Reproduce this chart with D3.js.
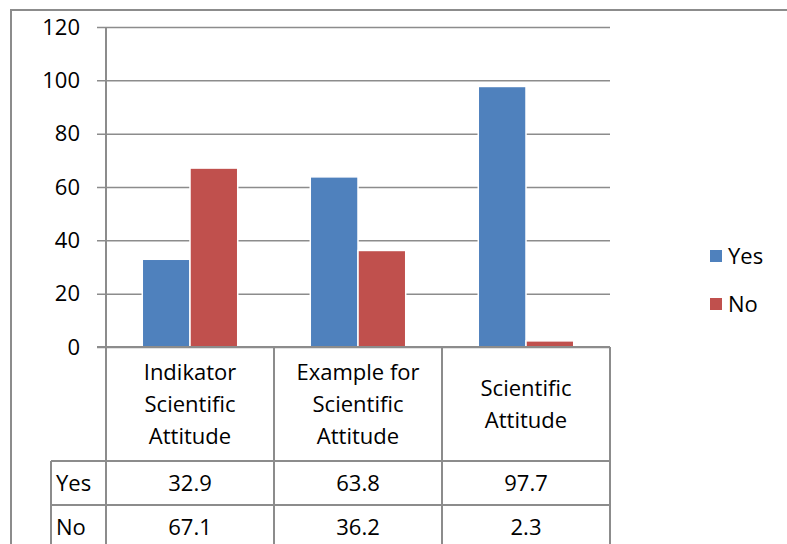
<!DOCTYPE html>
<html>
<head>
<meta charset="utf-8">
<script src="https://cdn.jsdelivr.net/npm/d3@7"></script>
<style>
  body { margin: 0; background: #fff; }
  text { font-family: "Open Sans", "Noto Sans", sans-serif; fill: #000; }
</style>
</head>
<body>
<div class="chart"></div>
<script>
let categories = [
    ["Indikator", "Scientific", "Attitude"],
    ["Example for", "Scientific", "Attitude"],
    ["Scientific", "Attitude"]
]
let seriesNames = ["Yes", "No"]
let yesValues = [32.9, 63.8, 97.7]
let noValues = [67.1, 36.2, 2.3]
let yTicks = [0, 20, 40, 60, 80, 100, 120]

let colors = {Yes: "#4F81BD", No: "#C0504D"}
let gridColor = "#8c8c8c"
let fontSize = 22

let outerWidth = 787
let outerHeight = 544
let plot = {left: 106, right: 610, top: 27, bottom: 347}
let headerBottom = 461
let rowHeight = 44
let labelColLeft = 51

let svg = d3.select(".chart")
    .append("svg")
    .attr("width", outerWidth)
    .attr("height", outerHeight)

// outer chart border
svg.append("path")
    .attr("d", `M11,${outerHeight} V10 H${outerWidth}`)
    .attr("fill", "none")
    .attr("stroke", gridColor)
    .attr("stroke-width", 2)

let catIdx = d3.range(categories.length)

let xScale = d3.scaleBand()
    .domain(catIdx)
    .range([plot.left, plot.right])

let xInner = d3.scaleBand()
    .domain(seriesNames)
    .range([0, xScale.bandwidth()])
    .paddingOuter(0.76)

let yScale = d3.scaleLinear()
    .domain([0, 120])
    .range([plot.bottom, plot.top])

// gridlines with tick marks to the left
let yAxis = d3.axisLeft(yScale)
    .tickValues(yTicks)
    .tickSize(-(plot.right - plot.left))

let yg = svg.append("g")
    .attr("class", "axis y-axis")
    .attr("transform", `translate(${plot.left}, 0)`)
    .call(yAxis)
yg.select(".domain").remove()
yg.selectAll(".tick line")
    .attr("x1", -9)
    .attr("stroke", gridColor)
    .attr("stroke-width", 1.5)
yg.selectAll(".tick text")
    .attr("font-size", fontSize)
    .attr("font-family", "Open Sans, sans-serif")
    .attr("x", -26)

// bars
let data = []
catIdx.forEach(i => {
    data.push({cat: i, series: "Yes", value: yesValues[i]})
    data.push({cat: i, series: "No", value: noValues[i]})
})

svg.append("g")
    .selectAll("rect")
    .data(data)
    .enter()
    .append("rect")
    .attr("x", d => xScale(d.cat) + xInner(d.series))
    .attr("y", d => yScale(d.value))
    .attr("width", xInner.bandwidth())
    .attr("height", d => yScale(0) - yScale(d.value))
    .attr("fill", d => colors[d.series])
    .attr("stroke", "#fff")
    .attr("stroke-width", 1.5)

// table lines
let tableBottom = headerBottom + rowHeight * seriesNames.length + 2
let lines = svg.append("g")
    .attr("stroke", gridColor)
    .attr("stroke-width", 2)
    .attr("fill", "none")

// value axis line and category separators
lines.append("line")
    .attr("x1", plot.left).attr("x2", plot.left)
    .attr("y1", plot.top).attr("y2", tableBottom)
catIdx.forEach(i => {
    let x = xScale(i) + xScale.bandwidth()
    lines.append("line")
        .attr("x1", x).attr("x2", x)
        .attr("y1", plot.bottom).attr("y2", tableBottom)
})
lines.append("line")
    .attr("x1", plot.left - 9).attr("x2", plot.right)
    .attr("y1", plot.bottom).attr("y2", plot.bottom)
seriesNames.forEach((s, j) => {
    let y = headerBottom + rowHeight * j
    lines.append("line")
        .attr("x1", labelColLeft).attr("x2", plot.right)
        .attr("y1", y).attr("y2", y)
})
lines.append("line")
    .attr("x1", labelColLeft).attr("x2", labelColLeft)
    .attr("y1", headerBottom).attr("y2", tableBottom)

// category labels
let lineH = 32
catIdx.forEach(i => {
    let lbl = categories[i]
    let cx = xScale(i) + xScale.bandwidth() / 2
    let cy = (plot.bottom + headerBottom) / 2
    let y0 = cy - (lbl.length - 1) * lineH / 2
    svg.append("text")
        .attr("text-anchor", "middle")
        .attr("font-size", fontSize)
        .selectAll("tspan")
        .data(lbl)
        .enter()
        .append("tspan")
        .attr("x", cx)
        .attr("y", (d, k) => y0 + k * lineH)
        .attr("dy", "0.35em")
        .text(d => d)
})

// table values
let rows = {Yes: yesValues, No: noValues}
seriesNames.forEach((s, j) => {
    let cy = headerBottom + rowHeight * j + rowHeight / 2
    svg.append("text")
        .attr("x", labelColLeft + 5)
        .attr("y", cy)
        .attr("dy", "0.35em")
        .attr("font-size", fontSize)
        .text(s)
    svg.append("g")
        .selectAll("text")
        .data(rows[s])
        .enter()
        .append("text")
        .attr("x", (d, i) => xScale(i) + xScale.bandwidth() / 2)
        .attr("y", cy)
        .attr("dy", "0.35em")
        .attr("text-anchor", "middle")
        .attr("font-size", fontSize)
        .text(d => d3.format(".1f")(d))
})

// legend
let legend = svg.append("g")
    .attr("class", "legend")
    .selectAll("g")
    .data(seriesNames)
    .enter()
    .append("g")
    .attr("transform", (d, i) => `translate(710, ${256 + i * 48})`)
legend.append("rect")
    .attr("x", 0)
    .attr("y", -6)
    .attr("width", 12)
    .attr("height", 12)
    .attr("fill", d => colors[d])
legend.append("text")
    .attr("x", 18)
    .attr("y", 0)
    .attr("dy", "0.35em")
    .attr("font-size", fontSize)
    .text(d => d)
</script>
</body>
</html>
